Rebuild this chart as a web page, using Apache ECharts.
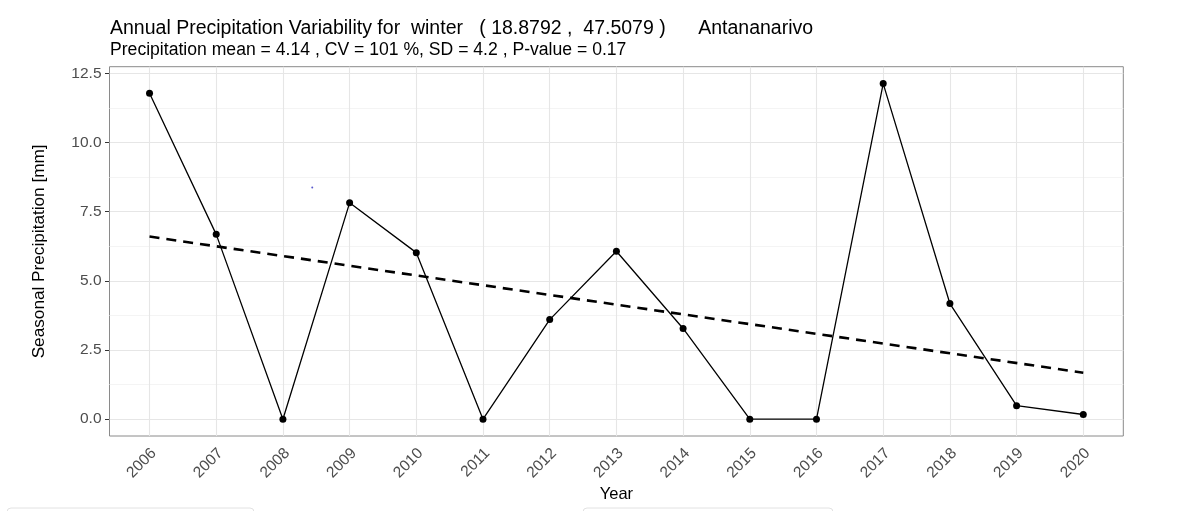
<!DOCTYPE html>
<html>
<head>
<meta charset="utf-8">
<script src="https://cdn.jsdelivr.net/npm/echarts@6/dist/echarts.min.js"></script>
<style>
  html, body { margin: 0; padding: 0; background: #fff; }
  #chart { width: 1200px; height: 511px; }
</style>
</head>
<body>
<div id="chart"></div>
<script>
// values
const years = [2006, 2007, 2008, 2009, 2010, 2011, 2012, 2013, 2014, 2015, 2016, 2017, 2018, 2019, 2020];
const precip = [11.78, 6.68, 0, 7.82, 6.02, 0, 3.60, 6.07, 3.28, 0, 0, 12.13, 4.18, 0.49, 0.17];
const trendYears = [2006, 2020];
const trendValues = [6.60, 1.68];
const yTicks = [0, 2.5, 5, 7.5, 10, 12.5];
const yMinor = [1.25, 3.75, 6.25, 8.75, 11.25];
const strayDot = [[2008.44, 8.37]]; // small blue speck in the picture

const chartDom = document.getElementById("chart");
const myChart = echarts.init(chartDom, null, { renderer: "canvas" });

const font = "Liberation Sans";
const xMin = 2005.4;
const xMax = 2020.6;
const labelShift = 0.065; // ggplot's rotated labels sit a bit right of their ticks

function pairs(xs, ys) {
  return xs.map(function (x, i) {
    return [x, ys[i]];
  });
}

// grid lines drawn as markLines so they follow ggplot's breaks
const gridLines = []
  .concat(yMinor.map(function (v) {
    return { yAxis: v, lineStyle: { color: "#f4f4f4", width: 1, type: "solid" } };
  }))
  .concat(yTicks.map(function (v) {
    return { yAxis: v, lineStyle: { color: "#e6e6e6", width: 1.1, type: "solid" } };
  }))
  .concat(years.map(function (v) {
    return { xAxis: v, lineStyle: { color: "#e6e6e6", width: 1.1, type: "solid" } };
  }));

const option = {
  animation: false,
  backgroundColor: "#fff",
  title: [
    {
      text: "Annual Precipitation Variability for  winter   ( 18.8792 ,  47.5079 )      Antananarivo",
      left: 110,
      top: 18.5,
      padding: 0,
      textStyle: { fontFamily: font, fontSize: 19.5, fontWeight: "normal", color: "#000" },
    },
    {
      text: "Precipitation mean = 4.14 , CV = 101 %, SD = 4.2 , P-value = 0.17",
      left: 110,
      top: 41.5,
      padding: 0,
      textStyle: { fontFamily: font, fontSize: 17.6, fontWeight: "normal", color: "#000" },
    },
  ],
  grid: {
    left: 109.5,
    right: 76.7,
    top: 66.7,
    bottom: 75,
    show: true,
    borderColor: "#8a8a8a",
    borderWidth: 1,
    backgroundColor: "transparent",
    containLabel: false,
    outerBoundsMode: "none",
  },
  xAxis: [
    {
      type: "value",
      min: xMin,
      max: xMax,
      name: "Year",
      nameLocation: "middle",
      nameGap: 50,
      nameMoveOverlap: false,
      nameTextStyle: { fontFamily: font, fontSize: 16.5, color: "#000" },
      axisLine: { show: false },
      splitLine: { show: false },
      axisTick: { show: true, length: 4, lineStyle: { color: "#333", width: 1 }, customValues: years },
      axisLabel: { show: false },
    },
    {
      // labels only, shifted like the reference
      type: "value",
      position: "bottom",
      min: xMin - labelShift,
      max: xMax - labelShift,
      axisLine: { show: false },
      splitLine: { show: false },
      axisTick: { show: false },
      axisLabel: {
        customValues: years,
        rotate: 45,
        margin: 15,
        fontFamily: font,
        fontSize: 15.5,
        color: "#4d4d4d",
        formatter: function (v) {
          return String(v);
        },
      },
    },
  ],
  yAxis: {
    type: "value",
    min: -0.607,
    max: 12.74,
    name: "Seasonal Precipitation [mm]",
    nameLocation: "middle",
    nameGap: 62,
    nameRotate: 90,
    nameMoveOverlap: false,
    nameTextStyle: { fontFamily: font, fontSize: 17.2, color: "#000" },
    axisLine: { show: false },
    splitLine: { show: false },
    axisTick: { show: true, length: 4.5, lineStyle: { color: "#333", width: 1 }, customValues: yTicks },
    axisLabel: {
      customValues: yTicks,
      margin: 8,
      fontFamily: font,
      fontSize: 15.5,
      color: "#4d4d4d",
      formatter: function (v) {
        return v.toFixed(1);
      },
    },
  },
  graphic: [
    {
      type: "rect",
      shape: { x: 7, y: 508, width: 247, height: 30, r: 4 },
      style: { fill: "none", stroke: "#e2e2e2", lineWidth: 1 },
    },
    {
      type: "rect",
      shape: { x: 583, y: 508, width: 250, height: 30, r: 4 },
      style: { fill: "none", stroke: "#e2e2e2", lineWidth: 1 },
    },
  ],
  series: [
    {
      // background grid
      type: "line",
      data: [],
      z: 1,
      silent: true,
      markLine: {
        z: 1,
        silent: true,
        symbol: "none",
        label: { show: false },
        emphasis: { disabled: true },
        data: gridLines,
      },
    },
    {
      type: "line",
      name: "trend",
      data: pairs(trendYears, trendValues),
      z: 6,
      showSymbol: false,
      symbol: "none",
      lineStyle: { color: "#000", width: 2.6, type: [10, 7] },
    },
    {
      type: "line",
      name: "precipitation",
      data: pairs(years, precip),
      z: 7,
      symbol: "circle",
      symbolSize: 7,
      showAllSymbol: true,
      itemStyle: { color: "#000", borderWidth: 0 },
      lineStyle: { color: "#000", width: 1.3 },
    },
    {
      type: "scatter",
      data: strayDot,
      z: 6,
      symbolSize: 2,
      itemStyle: { color: "#3030c0" },
    },
  ],
};

myChart.setOption(option);
</script>
</body>
</html>
